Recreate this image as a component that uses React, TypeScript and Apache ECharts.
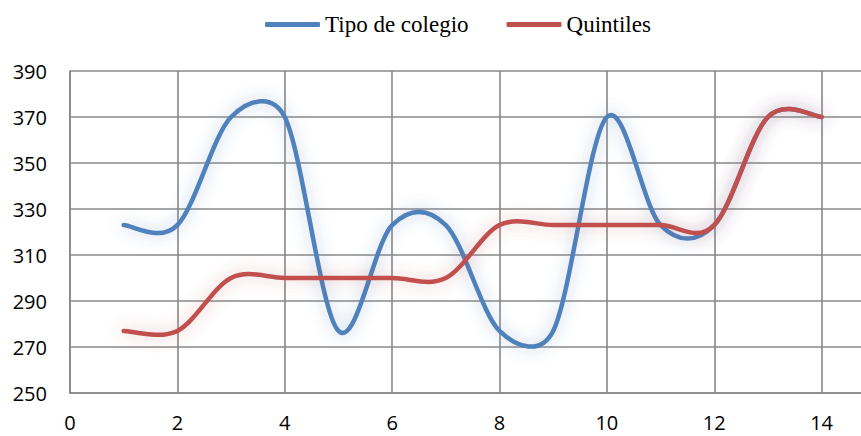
import React, { useEffect, useRef } from "react";
import * as echarts from "echarts";

const xValues = [1, 2, 3, 4, 5, 6, 7, 8, 9, 10, 11, 12, 13, 14];
const tipoColegio = [323, 323, 370, 370, 277, 323, 323, 277, 277, 370, 323, 323, 370, 370];
const quintiles = [277, 277, 300, 300, 300, 300, 300, 323, 323, 323, 323, 323, 370, 370];
const seriesNames = ["Tipo de colegio", "Quintiles"];
const xTickMin = 0;
const xTickMax = 16;
const yTickMin = 250;
const yTickMax = 390;

// Excel-like smoothed line through the points, positioned with the axis scales (api.coord)
function smoothRenderer(ys: number[], color: string, glow: string) {
  return (params: any, api: any) => {
    if (params.dataIndex !== 0) return null;
    const pts: number[][] = xValues.map((x, i) => api.coord([x, ys[i]]));
    const f = 1 / 6;
    const cap = 0.5;
    const ctrl = (a: number[], b: number[], seg: number) => {
      let dx = (b[0] - a[0]) * f;
      let dy = (b[1] - a[1]) * f;
      const l = Math.hypot(dx, dy);
      if (l > cap * seg) {
        dx *= (cap * seg) / l;
        dy *= (cap * seg) / l;
      }
      return [dx, dy];
    };
    let d = `M${pts[0][0]},${pts[0][1]}`;
    for (let i = 0; i < pts.length - 1; i++) {
      const p0 = pts[i - 1] || pts[i];
      const p1 = pts[i];
      const p2 = pts[i + 1];
      const p3 = pts[i + 2] || pts[i + 1];
      const seg = Math.hypot(p2[0] - p1[0], p2[1] - p1[1]);
      const t1 = ctrl(p0, p2, seg);
      const t2 = ctrl(p1, p3, seg);
      const c1 = [p1[0] + t1[0], p1[1] + t1[1]];
      const c2 = [p2[0] - t2[0], p2[1] - t2[1]];
      d += ` C${c1[0]},${c1[1]} ${c2[0]},${c2[1]} ${p2[0]},${p2[1]}`;
    }
    return {
      type: "path",
      shape: { pathData: d },
      style: {
        fill: "none",
        stroke: color,
        lineWidth: 4.5,
        lineCap: "round",
        lineJoin: "round",
        shadowBlur: 16,
        shadowColor: glow,
      },
    };
  };
}

export default function App() {
  const ref = useRef<HTMLDivElement>(null);
  useEffect(() => {
    if (!ref.current) return;
    const chart = echarts.init(ref.current, undefined, { renderer: "svg" });
    const lineCol = "#888888";
    chart.setOption({
      animation: false,
      backgroundColor: "#ffffff",
      legend: {
        top: 8,
        left: 260,
        itemWidth: 55,
        itemHeight: 5,
        itemGap: 38,
        icon: "roundRect",
        textStyle: { fontFamily: "Liberation Serif", fontSize: 23, color: "#000" },
        data: seriesNames,
      },
      grid: { left: 70, right: 0, top: 71, bottom: 43, containLabel: false, outerBoundsMode: "none" },
      xAxis: {
        type: "value",
        min: xTickMin,
        max: xTickMax,
        interval: 2,
        axisLine: { show: true, lineStyle: { color: lineCol, width: 1.6 } },
        axisTick: { show: false },
        splitLine: { show: true, lineStyle: { color: lineCol, width: 1.6 } },
        axisLabel: { fontFamily: "Open Sans", fontSize: 20, color: "#000", margin: 19, showMaxLabel: false },
      },
      yAxis: {
        type: "value",
        min: yTickMin,
        max: yTickMax,
        interval: 20,
        axisLine: { show: true, lineStyle: { color: lineCol, width: 1.6 } },
        axisTick: { show: false },
        splitLine: { show: true, lineStyle: { color: lineCol, width: 1.6 } },
        axisLabel: { fontFamily: "Open Sans", fontSize: 20, color: "#000", margin: 23 },
      },
      series: [
        {
          name: seriesNames[0],
          type: "custom",
          coordinateSystem: "cartesian2d",
          itemStyle: { color: "#4F81BD" },
          encode: { x: 0, y: 1 },
          renderItem: smoothRenderer(tipoColegio, "#4F81BD", "rgba(79,129,189,0.45)"),
          data: xValues.map((x, i) => [x, tipoColegio[i]]),
        },
        {
          name: seriesNames[1],
          type: "custom",
          coordinateSystem: "cartesian2d",
          itemStyle: { color: "#C0504D" },
          encode: { x: 0, y: 1 },
          renderItem: smoothRenderer(quintiles, "#C0504D", "rgba(192,80,77,0.4)"),
          data: xValues.map((x, i) => [x, quintiles[i]]),
        },
      ],
    });
    return () => chart.dispose();
  }, []);
  return (
    <div style={{ position: "fixed", left: 0, top: 0, width: 861, height: 436, overflow: "hidden", background: "#fff" }}>
      <div ref={ref} style={{ width: 929, height: 436 }} />
    </div>
  );
}
